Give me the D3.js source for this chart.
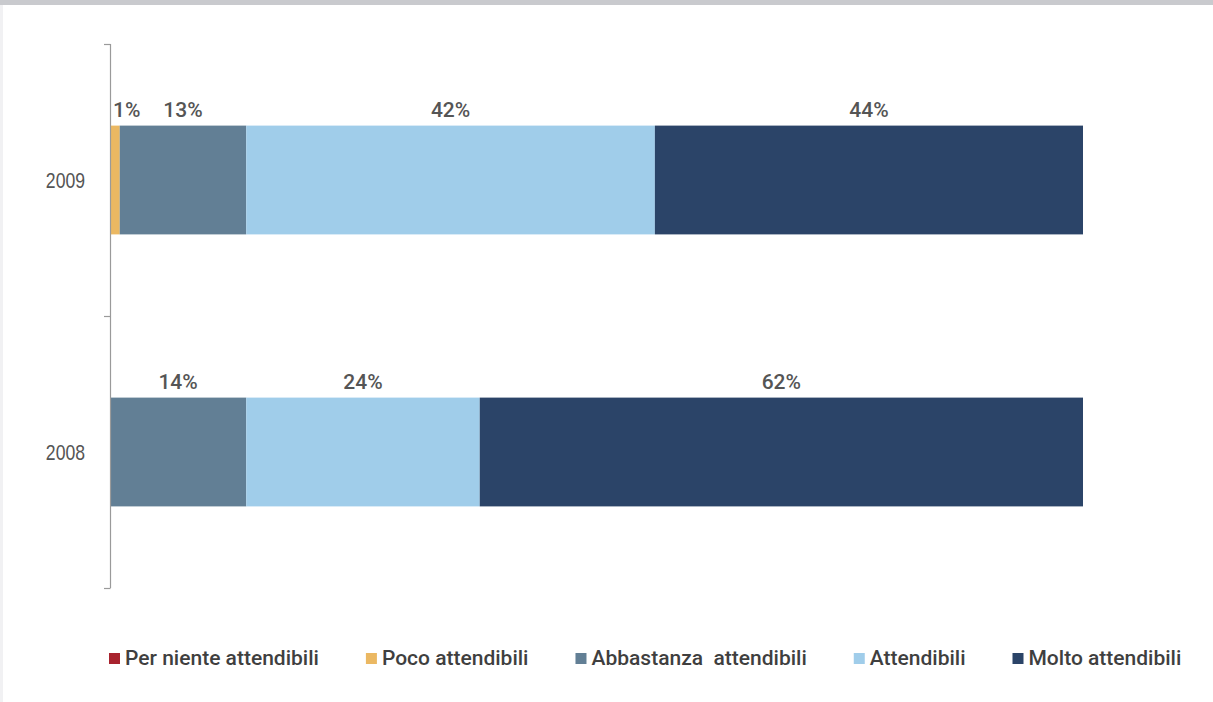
<!DOCTYPE html>
<html>
<head>
<meta charset="utf-8">
<script src="https://cdn.jsdelivr.net/npm/d3@7"></script>
<style>
  html, body { margin: 0; padding: 0; background: #ffffff; }
  svg { display: block; }
</style>
</head>
<body>
<svg id="chart" width="1213" height="702"></svg>
<script>
// Survey years (top to bottom) and the reliability categories in stacking order
const years = ["2009", "2008"];
const categories = ["Per niente attendibili", "Poco attendibili", "Abbastanza  attendibili", "Attendibili", "Molto attendibili"];
const colors = ["#a8232e", "#ebb862", "#627f95", "#a0cdea", "#2b4468"];

// Percentage shares per year, one entry per category
const values2009 = [0, 1, 13, 42, 44];
const values2008 = [0, 0, 14, 24, 62];
const valuesByYear = { "2009": values2009, "2008": values2008 };

const svg = d3.select("#chart");
const W = 1213, H = 702;

// page frame: grey band on top, faint strip on the left edge
svg.append("rect").attr("x", 0).attr("y", 0).attr("width", W).attr("height", H).attr("fill", "#ffffff");
svg.append("rect").attr("x", 0).attr("y", 0).attr("width", 3).attr("height", H).attr("fill", "#f1f1f3");
svg.append("rect").attr("x", 0).attr("y", 0).attr("width", W).attr("height", 5).attr("fill", "#c9cace");

const plot = { left: 110, right: 1083, top: 44, bottom: 588 };

const x = d3.scaleLinear().domain([0, 100]).range([plot.left, plot.right]);
const y = d3.scaleBand().domain(years).range([plot.top, plot.bottom]).padding(0);
const barH = y.bandwidth() * 0.4;

// stacked segments
const stack = d3.stack().keys(d3.range(categories.length))
  .value((yr, k) => valuesByYear[yr][k]);
const series = stack(years);

const g = svg.append("g");
series.forEach((s, k) => {
  g.selectAll(null).data(s).enter().append("rect")
    .attr("x", d => x(d[0]))
    .attr("y", d => y(d.data) + (y.bandwidth() - barH) / 2)
    .attr("width", d => x(d[1]) - x(d[0]))
    .attr("height", barH)
    .attr("fill", colors[k]);
});

// value labels above each non-empty segment
series.forEach((s, k) => {
  s.forEach(d => {
    const v = d[1] - d[0];
    if (v <= 0) return;
    const cx = (x(d[0]) + x(d[1])) / 2;
    const t = svg.append("text")
      .attr("y", y(d.data) + (y.bandwidth() - barH) / 2 - 9)
      .attr("font-family", "Roboto, 'Liberation Sans', sans-serif")
      .attr("font-weight", 500)
      .attr("font-size", 21)
      .attr("fill", "#555555")
      .text(v + "%");
    const w = t.node().getComputedTextLength();
    const left = Math.max(cx - w / 2, plot.left + 3);
    t.attr("x", left);
  });
});

// category axis with ticks at band boundaries
const axisG = svg.append("g");
axisG.append("line")
  .attr("x1", plot.left + 0.5).attr("x2", plot.left + 0.5)
  .attr("y1", plot.top).attr("y2", plot.bottom)
  .attr("stroke", "#9a9a9a").attr("stroke-width", 1.2);
const bounds = years.map(yr => y(yr)).concat([plot.bottom]);
axisG.selectAll(null).data(bounds).enter().append("line")
  .attr("x1", plot.left - 6).attr("x2", plot.left + 0.5)
  .attr("y1", d => d + 0.5).attr("y2", d => d + 0.5)
  .attr("stroke", "#9a9a9a").attr("stroke-width", 1.2);
// condensed year labels, right-aligned next to the axis
axisG.selectAll(null).data(years).enter().append("text")
  .attr("transform", d => `translate(85,${y(d) + y.bandwidth() / 2 + 8}) scale(0.8,1)`)
  .attr("text-anchor", "end")
  .attr("font-family", "'Liberation Sans', Arial, sans-serif")
  .attr("font-size", 22)
  .attr("fill", "#555555")
  .text(d => d);

// legend, laid out left to right
const legend = svg.append("g");
let lx = 109;
const ly = 653;
categories.forEach((c, k) => {
  legend.append("rect").attr("x", lx).attr("y", ly).attr("width", 11).attr("height", 11).attr("fill", colors[k]);
  const t = legend.append("text")
    .attr("x", lx + 16).attr("y", ly + 12)
    .attr("font-family", "Roboto, 'Liberation Sans', sans-serif")
    .attr("font-weight", 500)
    .attr("font-size", 21)
    .attr("fill", "#3f3f3f")
    .attr("xml:space", "preserve")
    .style("white-space", "pre")
    .text(c);
  lx += 16 + t.node().getComputedTextLength() + 47;
});
</script>
</body>
</html>
